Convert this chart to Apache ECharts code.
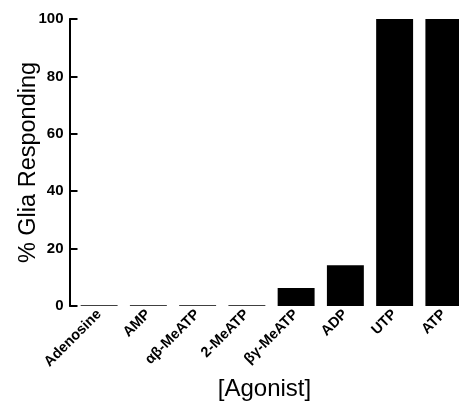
<!DOCTYPE html>
<html><head><meta charset="utf-8">
<script src="https://cdn.jsdelivr.net/npm/echarts@6/dist/echarts.min.js"></script>
<style>html,body{margin:0;padding:0;background:#fff}#c{width:459px;height:401px}</style>
</head><body><div id="c"></div>
<script>
var categories = ['Adenosine', 'AMP', 'αβ-MeATP', '2-MeATP', 'βγ-MeATP', 'ADP', 'UTP', 'ATP'];
var responding = [0.3, 0.3, 0.3, 0.3, 6.3, 14.2, 100, 100];
var yTicks = [0, 20, 40, 60, 80, 100];

var chart = echarts.init(document.getElementById('c'), null, {renderer: 'canvas'});
chart.setOption({
  animation: false,
  backgroundColor: '#fff',
  grid: {left: 74.5, width: 394, top: 19, bottom: 95, outerBoundsMode: 'none', containLabel: false},
  xAxis: {
    type: 'category',
    data: categories,
    axisLine: {show: false},
    axisTick: {show: false},
    axisLabel: {rotate: 45, interval: 0, margin: 6, color: '#000', fontFamily: 'Liberation Sans', fontSize: 14.5, fontWeight: 'bold'},
    name: '[Agonist]',
    nameLocation: 'middle',
    nameGap: 71,
    nameMoveOverlap: false,
    nameTextStyle: {color: '#000', fontFamily: 'Liberation Sans', fontSize: 24, padding: [0, 14, 0, 0]}
  },
  yAxis: {
    type: 'value',
    min: yTicks[0],
    max: yTicks[yTicks.length - 1],
    interval: 20,
    offset: 5,
    splitLine: {show: false},
    axisLine: {show: true, lineStyle: {color: '#000', width: 2}},
    axisTick: {show: true, inside: true, length: 8, lineStyle: {color: '#000', width: 2}},
    axisLabel: {color: '#000', fontFamily: 'Liberation Sans', fontSize: 15, fontWeight: 'bold', margin: 6},
    name: '% Glia Responding',
    nameLocation: 'middle',
    nameGap: 29,
    nameMoveOverlap: false,
    nameTextStyle: {color: '#000', fontFamily: 'Liberation Sans', fontSize: 23.5}
  },
  series: [{
    type: 'bar',
    data: responding,
    barWidth: '75%',
    itemStyle: {color: '#000'}
  }]
});
</script></body></html>
